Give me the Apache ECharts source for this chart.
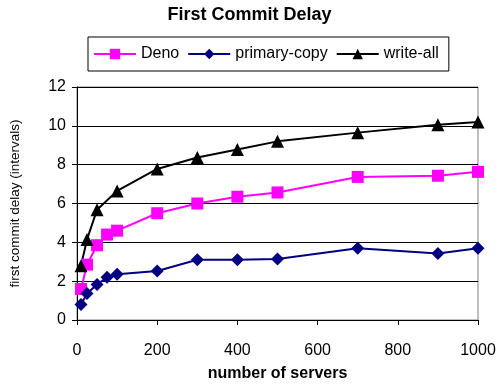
<!DOCTYPE html>
<html><head><meta charset="utf-8">
<script src="https://cdn.jsdelivr.net/npm/echarts@6/dist/echarts.min.js"></script>
<style>html,body{margin:0;padding:0;background:#fff}#c{width:499px;height:387px}</style>
</head><body><div id="c"></div>
<script>
const titleText = 'First Commit Delay';
const xName = 'number of servers';
const yName = 'first commit delay (intervals)';
const denoX = [10, 25, 50, 75, 100, 200, 300, 400, 500, 700, 900, 1000];
const denoY = [1.6, 2.85, 3.85, 4.4, 4.6, 5.5, 6.0, 6.35, 6.57, 7.37, 7.43, 7.63];
const primaryX = [10, 25, 50, 75, 100, 200, 300, 400, 500, 700, 900, 1000];
const primaryY = [0.8, 1.37, 1.83, 2.2, 2.35, 2.52, 3.1, 3.1, 3.14, 3.7, 3.42, 3.7];
const writeX = [10, 25, 50, 100, 200, 300, 400, 500, 700, 900, 1000];
const writeY = [2.8, 4.15, 5.68, 6.65, 7.78, 8.37, 8.78, 9.2, 9.65, 10.05, 10.2];
const FONT = '"Liberation Sans", Arial, sans-serif';
const pair = (xs, ys) => xs.map((x, i) => [x, ys[i]]);
const chart = echarts.init(document.getElementById('c'));
chart.setOption({
  animation: false,
  backgroundColor: '#fff',
  title: { text: titleText, left: 'center', top: 1,
    textStyle: { fontFamily: FONT, fontSize: 18, fontWeight: 'bold', color: '#000' } },
  legend: {
    left: 88, top: 37, padding: [9, 10, 9, 5],
    borderColor: '#000', borderWidth: 1,
    itemWidth: 42, itemHeight: 13, itemGap: 8,
    textStyle: { fontFamily: FONT, fontSize: 16, color: '#000' },
    data: ['Deno', 'primary-copy', 'write-all']
  },
  grid: { left: 76, right: 21, top: 87, bottom: 62, show: true, borderColor: '#808080', borderWidth: 1 },
  xAxis: {
    type: 'value', min: 0, max: 1000, interval: 200,
    name: xName, nameLocation: 'middle', nameGap: 46,
    nameTextStyle: { fontFamily: FONT, fontSize: 16, fontWeight: 'bold', color: '#000' },
    axisLine: { lineStyle: { color: '#000', width: 1 } },
    axisTick: { show: true, length: 5, lineStyle: { color: '#000' } },
    axisLabel: { fontFamily: FONT, fontSize: 16, color: '#000', margin: 23, formatter: v => String(v) },
    splitLine: { show: false }
  },
  yAxis: {
    type: 'value', min: 0, max: 12, interval: 2,
    name: yName, nameLocation: 'middle', nameGap: 55,
    nameTextStyle: { fontFamily: FONT, fontSize: 13.5, color: '#000' },
    axisLine: { show: true, lineStyle: { color: '#000', width: 1 } },
    axisTick: { show: true, length: 5, lineStyle: { color: '#000' } },
    axisLabel: { fontFamily: FONT, fontSize: 16, color: '#000', margin: 11 },
    splitLine: { show: true, lineStyle: { color: '#000', width: 1 } }
  },
  series: [
    { name: 'Deno', type: 'line', data: pair(denoX, denoY), symbol: 'rect', symbolSize: 12,
      color: '#FF00FF', lineStyle: { width: 2, color: '#FF00FF' }, itemStyle: { color: '#FF00FF' } },
    { name: 'primary-copy', type: 'line', data: pair(primaryX, primaryY), symbol: 'diamond', symbolSize: 13,
      color: '#000080', lineStyle: { width: 2, color: '#000080' }, itemStyle: { color: '#000080' } },
    { name: 'write-all', type: 'line', data: pair(writeX, writeY), symbol: 'triangle', symbolSize: 13,
      color: '#000', lineStyle: { width: 2, color: '#000' }, itemStyle: { color: '#000' } }
  ]
});
</script></body></html>
